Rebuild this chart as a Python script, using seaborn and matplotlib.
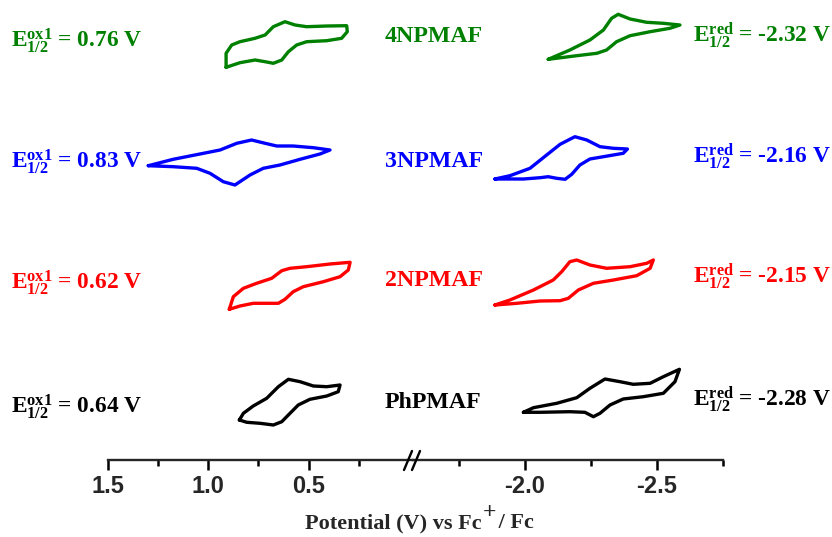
import numpy as np
import pandas as pd
import matplotlib
matplotlib.use("Agg")
import matplotlib.pyplot as plt
import seaborn as sns

# ---------------- data (potential in V vs Fc+/Fc, current in a.u., offset-stacked) -------------
compounds = ["4NPMAF", "3NPMAF", "2NPMAF", "PhPMAF"]
colors = ["#008000", "#0000FF", "#FF0000", "#000000"]
e_ox = ["0.76", "0.83", "0.62", "0.64"]
e_red = ["-2.32", "-2.16", "-2.15", "-2.28"]

ox_4NPMAF_V = [0.911, 0.911, 0.883, 0.842, 0.767, 0.717, 0.676, 0.618, 0.568, 0.510, 0.410, 0.311,
               0.308, 0.336, 0.410, 0.510, 0.560, 0.601, 0.634, 0.676, 0.717, 0.767, 0.842, 0.911]
ox_4NPMAF_I = [39.27, 40.67, 41.5, 41.83, 42.17, 42.5, 43.33, 43.83, 43.5, 43.33, 43.4, 43.43,
               42.83, 42.17, 41.93, 41.83, 41.5, 40.83, 40.0, 39.67, 39.83, 40.0, 39.73, 39.27]

ox_3NPMAF_V = [1.298, 1.174, 1.041, 0.941, 0.858, 0.784, 0.717, 0.659, 0.577, 0.477, 0.394,
               0.444, 0.543, 0.643, 0.726, 0.792, 0.867, 0.925, 0.991, 1.057, 1.174, 1.298]
ox_3NPMAF_I = [29.43, 30.07, 30.6, 31.0, 31.67, 32.0, 31.67, 31.4, 31.4, 31.23, 31.0,
               30.6, 30.07, 29.5, 29.17, 28.5, 27.5, 27.83, 28.67, 29.17, 29.33, 29.43]

ox_2NPMAF_V = [0.895, 0.875, 0.825, 0.759, 0.684, 0.634, 0.593, 0.510, 0.394, 0.294,
               0.303, 0.344, 0.427, 0.527, 0.577, 0.618, 0.651, 0.709, 0.776, 0.842, 0.895]
ox_2NPMAF_I = [15.07, 16.33, 17.17, 17.67, 18.17, 18.93, 19.17, 19.33, 19.6, 19.77,
               19.0, 18.33, 17.83, 17.33, 16.83, 16.07, 15.67, 15.67, 15.67, 15.4, 15.07]

ox_PhPMAF_V = [0.845, 0.825, 0.776, 0.709, 0.651, 0.601, 0.543, 0.477, 0.410, 0.344,
               0.353, 0.410, 0.494, 0.552, 0.593, 0.634, 0.676, 0.742, 0.808, 0.845]
ox_PhPMAF_I = [4.0, 4.67, 5.4, 6.17, 7.33, 8.07, 7.83, 7.4, 7.33, 7.5,
               6.83, 6.4, 6.07, 5.5, 4.67, 3.83, 3.5, 3.67, 3.77, 4.0]

red_4NPMAF_V = [-2.088, -2.170, -2.246, -2.297, -2.328, -2.353, -2.398, -2.461, -2.524, -2.587,
                -2.549, -2.474, -2.398, -2.347, -2.309, -2.272, -2.196, -2.088]
red_4NPMAF_I = [40.07, 41.0, 42.0, 43.0, 44.17, 44.57, 44.1, 43.77, 43.67, 43.5,
                43.17, 42.83, 42.43, 41.83, 41.0, 40.67, 40.43, 40.07]

red_3NPMAF_V = [-1.886, -1.943, -2.019, -2.082, -2.133, -2.189, -2.234, -2.284, -2.335, -2.388,
                -2.372, -2.297, -2.246, -2.208, -2.177, -2.152, -2.120, -2.088, -2.057, -1.994, -1.886]
red_3NPMAF_I = [28.1, 28.43, 29.17, 30.5, 31.57, 32.33, 32.0, 31.33, 31.17, 31.1,
                30.67, 30.33, 30.1, 29.5, 28.57, 28.07, 28.17, 28.33, 28.23, 28.1, 28.1]

red_2NPMAF_V = [-1.886, -1.943, -2.032, -2.107, -2.139, -2.170, -2.196, -2.246, -2.309, -2.398, -2.461,
                -2.486, -2.474, -2.423, -2.335, -2.259, -2.202, -2.164, -2.133, -2.057, -1.969, -1.886]
red_2NPMAF_I = [15.5, 16.0, 17.0, 18.0, 18.83, 19.83, 20.0, 19.5, 19.17, 19.33, 19.67,
                20.0, 19.17, 18.43, 18.0, 17.67, 17.0, 16.17, 15.93, 15.9, 15.67, 15.5]

red_PhPMAF_V = [-1.994, -2.032, -2.120, -2.196, -2.246, -2.303, -2.360, -2.410, -2.474, -2.524, -2.585,
                -2.568, -2.524, -2.448, -2.372, -2.322, -2.284, -2.259, -2.227, -2.170, -2.057, -1.994]
red_PhPMAF_I = [4.77, 5.23, 5.67, 6.23, 7.17, 8.1, 7.83, 7.57, 7.67, 8.33, 9.07,
                7.83, 6.67, 6.33, 6.1, 5.5, 4.67, 4.33, 4.77, 4.83, 4.77, 4.77]

left_ticks = [1.5, 1.0, 0.5]
left_minor = [1.25, 0.75, 0.25]
right_ticks = [-2.0, -2.5]
right_minor = [-1.75, -2.25, -2.75]
xlabel_main = "Potential (V) vs Fc"
xlabel_sup = "+"
xlabel_end = " / Fc"

ox_curves = [(ox_4NPMAF_V, ox_4NPMAF_I), (ox_3NPMAF_V, ox_3NPMAF_I),
             (ox_2NPMAF_V, ox_2NPMAF_I), (ox_PhPMAF_V, ox_PhPMAF_I)]
red_curves = [(red_4NPMAF_V, red_4NPMAF_I), (red_3NPMAF_V, red_3NPMAF_I),
              (red_2NPMAF_V, red_2NPMAF_I), (red_PhPMAF_V, red_PhPMAF_I)]

# ---------------- style ----------------
sns.set_style("white")
plt.rcParams["font.family"] = ["Liberation Serif", "DejaVu Serif"]
plt.rcParams["mathtext.fontset"] = "custom"
plt.rcParams["mathtext.rm"] = "Liberation Serif:bold"
plt.rcParams["mathtext.it"] = "Liberation Serif:bold"
plt.rcParams["mathtext.bf"] = "Liberation Serif:bold"

W, H = 832, 537
fig = plt.figure(figsize=(W / 100, H / 100), dpi=100)

def fx(px):
    return px / W

def fy(py):
    return 1 - py / H

y_axis_px = 460
axL = fig.add_axes([fx(107.7), fy(y_axis_px), fx(413) - fx(107.7), y_axis_px / H])
axR = fig.add_axes([fx(413), fy(y_axis_px), fx(723) - fx(413), y_axis_px / H])

for (v, i), c in zip(ox_curves, colors):
    df = pd.DataFrame({"V": v, "I": i})
    sns.lineplot(data=df, x="V", y="I", sort=False, estimator=None, color=c, lw=2.4, ax=axL)
    axL.lines[-1].set_solid_joinstyle("round")
    axL.lines[-1].set_solid_capstyle("round")
for (v, i), c in zip(red_curves, colors):
    df = pd.DataFrame({"V": v, "I": i})
    sns.lineplot(data=df, x="V", y="I", sort=False, estimator=None, color=c, lw=2.4, ax=axR)
    axR.lines[-1].set_solid_joinstyle("round")
    axR.lines[-1].set_solid_capstyle("round")

axL.set_xlim(1.5, 1.5 - (413 - 107.7) / 201)
axR.set_xlim(-2.0 + (525 - 413) / 264, -2.0 - (723 - 525) / 264)
for ax in (axL, axR):
    ax.set_ylim(0, 46)
    ax.set_facecolor("none")
    for s in ("top", "right", "left"):
        ax.spines[s].set_visible(False)
    ax.spines["bottom"].set_linewidth(1.7)
    ax.set_yticks([])
    ax.set_xlabel("")
    ax.set_ylabel("")
    ax.tick_params(axis="x", which="both", bottom=True, top=False)
    ax.tick_params(axis="x", which="major", direction="out", length=7, width=1.8, pad=4, color="black")
    ax.tick_params(axis="x", which="minor", direction="out", length=4, width=1.8, color="black")

axL.set_xticks(left_ticks)
axL.set_xticks(left_minor, minor=True)
axL.set_xticklabels([f"{t:.1f}" for t in left_ticks])
axR.set_xticks(right_ticks)
axR.set_xticks(right_minor, minor=True)
axR.set_xticklabels([f"{t:.1f}" for t in right_ticks])
for ax in (axL, axR):
    for lab in ax.get_xticklabels():
        lab.set_fontfamily(["Liberation Sans Narrow", "Liberation Sans"])
        lab.set_fontweight("bold")
        lab.set_fontsize(17)

# axis break marks
for dx in (-5, 3):
    fig.add_artist(plt.Line2D([fx(409 + dx), fx(417 + dx)], [fy(470), fy(451)],
                              color="black", lw=1.7))

# x label
t1 = fig.text(fx(305), fy(523), xlabel_main, ha="left", va="center", fontsize=16,
              fontweight="bold", family="Liberation Serif")
fig.canvas.draw()
bb = t1.get_window_extent()
fig.text(bb.x1 / W + 0.001, fy(513), xlabel_sup, ha="left", va="center", fontsize=17,
         fontweight="bold", family="Liberation Serif")
fig.text(bb.x1 / W + 0.014, fy(523), xlabel_end, ha="left", va="center", fontsize=16,
         fontweight="bold", family="Liberation Serif")

# annotations
ox_y = [41, 162, 283, 407]
red_y = [36, 157, 277, 400]
name_y = [37, 161, 281, 402]
for k in range(4):
    fig.text(fx(11), fy(ox_y[k]), r"$\mathrm{E_{1/2}^{ox1}}$" + f" = {e_ox[k]} V",
             ha="left", va="center", fontsize=16.8, fontweight="bold", color=colors[k])
    fig.text(fx(693), fy(red_y[k]), r"$\mathrm{E_{1/2}^{red}}$" + f" = {e_red[k]} V",
             ha="left", va="center", fontsize=16.8, fontweight="bold", color=colors[k])
    fig.text(fx(385), fy(name_y[k]), compounds[k], ha="left", va="center",
             fontsize=17.2, fontweight="bold", color=colors[k])

fig.savefig("out.png", dpi=100)
